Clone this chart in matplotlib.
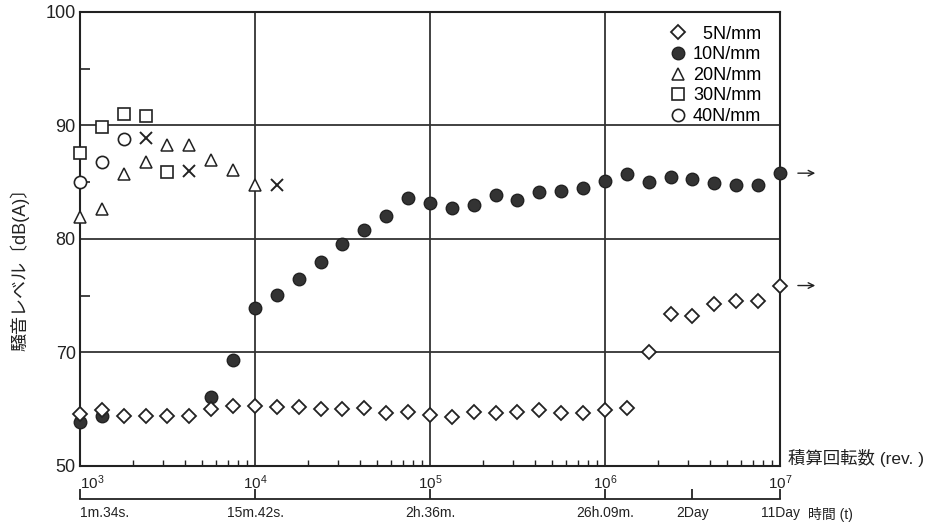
import matplotlib
matplotlib.use("Agg")
import matplotlib.pyplot as plt
import numpy as np
from matplotlib.ticker import FixedLocator, NullLocator, LogLocator, NullFormatter

plt.rcParams['font.family'] = ['Liberation Sans', 'Noto Sans CJK JP', 'DejaVu Sans']

# integrated revolutions (x) and noise level dB(A) (y)
rev_5n = [1000, 1330, 1780, 2370, 3160, 4220, 5620, 7500,
          1.0e4, 1.33e4, 1.78e4, 2.37e4, 3.16e4, 4.22e4, 5.62e4, 7.5e4,
          1.0e5, 1.33e5, 1.78e5, 2.37e5, 3.16e5, 4.22e5, 5.62e5, 7.5e5,
          1.0e6, 1.33e6, 1.78e6, 2.37e6, 3.16e6, 4.22e6, 5.62e6, 7.5e6, 1.0e7]
db_5n = [59.1, 59.8, 58.8, 58.8, 58.8, 58.8, 60.0, 60.5,
         60.5, 60.4, 60.4, 60.0, 60.0, 60.2, 59.3, 59.5,
         58.9, 58.6, 59.5, 59.3, 59.5, 59.8, 59.3, 59.3,
         59.8, 60.2, 70.0, 73.4, 73.2, 74.3, 74.5, 74.5, 75.9]

rev_10n = [1000, 1330, 5620, 7500,
           1.0e4, 1.33e4, 1.78e4, 2.37e4, 3.16e4, 4.22e4, 5.62e4, 7.5e4,
           1.0e5, 1.33e5, 1.78e5, 2.37e5, 3.16e5, 4.22e5, 5.62e5, 7.5e5,
           1.0e6, 1.33e6, 1.78e6, 2.37e6, 3.16e6, 4.22e6, 5.62e6, 7.5e6, 1.0e7]
db_10n = [57.7, 58.8, 62.1, 68.6,
          73.9, 75.1, 76.5, 78.0, 79.6, 80.8, 82.0, 83.6,
          83.2, 82.7, 83.0, 83.9, 83.4, 84.1, 84.2, 84.5,
          85.1, 85.7, 85.0, 85.5, 85.3, 84.9, 84.8, 84.8, 85.8]

rev_20n = [1000, 1330, 1780, 2370, 3160, 4220, 5620, 7500, 1.0e4]
db_20n = [81.9, 82.6, 85.7, 86.8, 88.3, 88.3, 87.0, 86.1, 84.8]

rev_30n = [1000, 1330, 1780, 2370, 3160]
db_30n = [87.6, 89.9, 91.0, 90.8, 85.9]

rev_40n = [1000, 1330, 1780]
db_40n = [85.0, 86.8, 88.8]

rev_x = [2370, 4220, 1.33e4]
db_x = [88.9, 86.0, 84.8]

labels = ['  5N/mm', '10N/mm', '20N/mm', '30N/mm', '40N/mm']

time_ticks = [1e3, 1e4, 1e5, 1e6, 3.16e6, 1e7]
time_labels = ['1m.34s.', '15m.42s.', '2h.36m.', '26h.09m.', '2Day', '11Day']


# y axis is compressed below 70 (50..70 takes one grid cell)
def fwd(v):
    v = np.asarray(v, dtype=float)
    return np.where(v >= 70, v, 70 - (70 - v) / 2)


def inv(y):
    y = np.asarray(y, dtype=float)
    return np.where(y >= 70, y, 70 - 2 * (70 - y))


ink = '#222222'
fig = plt.figure(figsize=(9.44, 5.30), dpi=100)
ax = fig.add_axes([80 / 944, 1 - 466 / 530, 700 / 944, 454 / 530])

ax.set_xscale('log')
ax.set_yscale('function', functions=(fwd, inv))
ax.set_xlim(1e3, 1e7)
ax.set_ylim(50, 100)

h10, = ax.plot(rev_10n, db_10n, 'o', ms=9, mfc='#333333', mec=ink, mew=1.0, zorder=3, clip_on=False)
h5, = ax.plot(rev_5n, db_5n, 'D', ms=7.4, mfc='white', mec=ink, mew=1.3, zorder=4, clip_on=False)
h20, = ax.plot(rev_20n, db_20n, '^', ms=8.5, mfc='white', mec=ink, mew=1.1, zorder=4, clip_on=False)
h30, = ax.plot(rev_30n, db_30n, 's', ms=8.8, mfc='white', mec=ink, mew=1.2, zorder=4, clip_on=False)
h40, = ax.plot(rev_40n, db_40n, 'o', ms=8.8, mfc='white', mec=ink, mew=1.2, zorder=4, clip_on=False)
ax.plot(rev_x, db_x, 'x', ms=9, color=ink, mew=1.4, zorder=4, clip_on=False)

# grid and ticks
ax.xaxis.set_major_locator(FixedLocator([1e3, 1e4, 1e5, 1e6, 1e7]))
ax.xaxis.set_minor_locator(LogLocator(base=10, subs=np.arange(2, 10)))
ax.xaxis.set_minor_formatter(NullFormatter())
ax.yaxis.set_major_locator(FixedLocator([50, 70, 80, 90, 100]))
ax.yaxis.set_minor_locator(FixedLocator([75, 85, 95]))
ax.set_yticklabels(['50', '70', '80', '90', '100'])
ax.grid(True, which='major', color='#333333', lw=1.3)
ax.tick_params(axis='both', which='major', length=0)
ax.tick_params(axis='y', which='major', labelsize=13, pad=3, labelcolor=ink)
ax.tick_params(axis='x', which='major', labelsize=11, pad=5, labelcolor=ink)
ax.tick_params(axis='y', which='minor', direction='in', length=7, width=1.2, color=ink)
ax.tick_params(axis='x', which='minor', direction='in', length=4, width=1.0, color=ink)
for s in ax.spines.values():
    s.set_color(ink)
    s.set_linewidth(1.5)

# time axis below
sec = ax.secondary_xaxis(-33 / 454)
sec.set_xticks(time_ticks)
sec.set_xticklabels(time_labels)
sec.xaxis.set_minor_locator(NullLocator())
sec.tick_params(direction='in', length=7, width=1.3, color=ink, labelsize=10, pad=5, labelcolor=ink)
sec.spines['bottom'].set_color(ink)
sec.spines['bottom'].set_linewidth(1.3)

# first labels sit to the right of the left edge, as in the original
fig.canvas.draw()
ax.get_xticklabels()[0].set_ha('left')
sec.get_xticklabels()[0].set_ha('left')

ax.legend([h5, h10, h20, h30, h40], labels, loc='upper right',
          bbox_to_anchor=(1.0 - 6 / 700, 1.0 - 1 / 454), frameon=False,
          fontsize=13, handletextpad=0.35, labelspacing=0.2, borderpad=0.2,
          handlelength=1.0)

# arrows past the right edge
ax.annotate('', xy=(1.65e7, 85.8), xytext=(1.22e7, 85.8), annotation_clip=False,
            arrowprops=dict(arrowstyle='->', color=ink, lw=1.0))
ax.annotate('', xy=(1.65e7, 75.9), xytext=(1.22e7, 75.9), annotation_clip=False,
            arrowprops=dict(arrowstyle='->', color=ink, lw=1.0))

fig.text(20 / 944, 1 - 265 / 530, '騒音レベル〔dB(A)〕', rotation=90, ha='center', va='center',
         fontsize=13, color=ink)
fig.text(788 / 944, 1 - 458 / 530, '積算回転数 (rev. )', ha='left', va='center', fontsize=12.5, color=ink)
fig.text(808 / 944, 1 - 514 / 530, '時間 (t)', ha='left', va='center', fontsize=10, color=ink)

fig.savefig('out.png', dpi=100)
